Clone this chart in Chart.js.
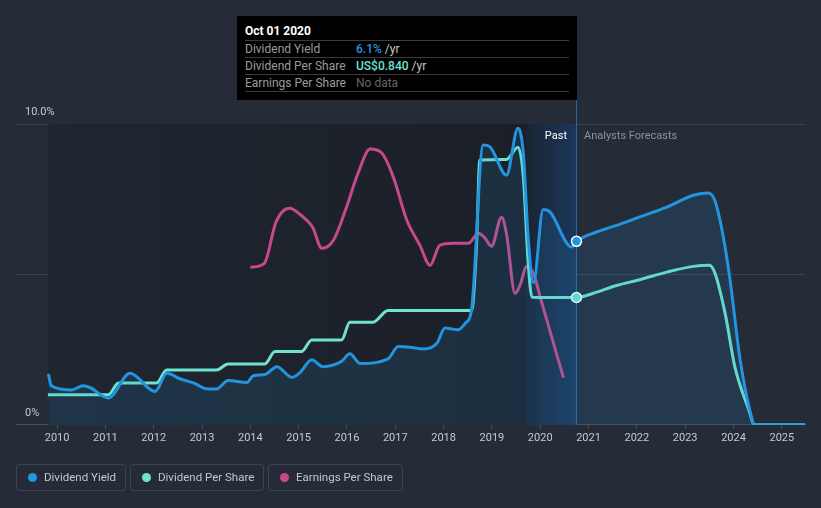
<!DOCTYPE html>
<html>
<head>
<meta charset="utf-8">
<script src="https://cdn.jsdelivr.net/npm/chart.js@4.4.1/dist/chart.umd.min.js"></script>
<style>
  html, body { margin:0; padding:0; background:#252b37; }
  #wrap { position:relative; width:821px; height:508px; background:#252b37; font-family:Roboto, "Noto Sans", sans-serif; overflow:hidden; }
  #c { position:absolute; left:0; top:0; }
  .tip { position:absolute; left:237px; top:16px; width:340px; height:84px; background:#000; box-sizing:border-box; }
  .tip .title { position:absolute; left:8px; top:8px; color:#fff; font-weight:700; font-size:12px; }
  .tip .row { position:absolute; left:8px; width:324px; height:17px; border-top:1px solid #3a3a3a; font-size:12px; line-height:16px; color:#9b9b9b; }
  .tip .row .v { position:absolute; left:111px; top:0; }
  .tip .sep { position:absolute; left:8px; width:324px; border-top:1px solid #3a3a3a; }
  .lab { position:absolute; font-size:11px; white-space:nowrap; }
  .legend { position:absolute; top:464px; height:27px; border:1px solid #3d4451; border-radius:3px; box-sizing:border-box; color:#c3c7ce; font-size:11.5px; line-height:25px; padding-left:27px; }
  .legend .dot { position:absolute; left:11px; top:8px; width:9px; height:9px; border-radius:50%; }
</style>
</head>
<body>
<div id="wrap">
  <canvas id="c" width="821" height="508"></canvas>
  <div class="tip">
    <div class="title">Oct 01 2020</div>
    <div class="row" style="top:24px">Dividend Yield<span class="v"><b style="color:#2394df;font-weight:500">6.1%</b> <span style="color:#c9c9c9">/yr</span></span></div>
    <div class="row" style="top:41px">Dividend Per Share<span class="v"><b style="color:#6ee4d0;font-weight:500">US$0.840</b> <span style="color:#c9c9c9">/yr</span></span></div>
    <div class="row" style="top:58px">Earnings Per Share<span class="v" style="color:#666">No data</span></div>
    <div class="sep" style="top:75px"></div>
  </div>
  <div class="lab" style="right:254px; top:129px; color:#ffffff;">Past</div>
  <div class="lab" style="left:584px; top:129px; color:#8d939d;">Analysts Forecasts</div>
  <div class="legend" style="left:16px; width:110px;"><span class="dot" style="background:#2394df"></span>Dividend Yield</div>
  <div class="legend" style="left:130px; width:134px;"><span class="dot" style="background:#6ee4d0"></span>Dividend Per Share</div>
  <div class="legend" style="left:268px; width:135px;"><span class="dot" style="background:#c7498b"></span>Earnings Per Share</div>
</div>
<script>
// ---- Data ----
const tickYears = [2010,2011,2012,2013,2014,2015,2016,2017,2018,2019,2020,2021,2022,2023,2024,2025];
const yTickValues = [0, 5, 10];
const yTickLabels = ['0%', '', '10.0%'];

const yieldYears  = [2009.82,2009.88,2010.30,2010.54,2010.68,2011.06,2011.51,2012.03,2012.27,2012.54,2012.86,2013.06,2013.30,2013.54,2013.93,2014.06,2014.30,2014.55,2014.86,2015.03,2015.27,2015.51,2015.72,2015.89,2016.06,2016.27,2016.85,2017.06,2017.30,2017.58,2017.86,2018.03,2018.30,2018.44,2018.58,2018.82,2018.96,2019.30,2019.54,2019.65,2019.75,2019.86,2020.06,2020.20,2020.65,2020.75,2021.17,2021.58,2022.06,2022.62,2023.17,2023.48,2023.61,2023.79,2023.93,2024.13,2024.34,2024.44,2025.48];
const yieldValues = [1.69,1.30,1.16,1.30,1.24,0.89,1.71,1.11,1.71,1.53,1.37,1.21,1.19,1.47,1.41,1.63,1.67,1.93,1.58,1.74,2.16,1.93,1.99,2.11,2.36,2.04,2.19,2.60,2.58,2.52,2.71,3.22,3.16,3.36,3.86,9.30,9.24,8.30,9.86,9.03,6.24,4.72,7.16,7.08,5.91,6.10,6.41,6.63,6.91,7.24,7.63,7.71,7.47,6.24,4.80,2.24,0.47,0.00,0.00];

const dpsYears  = [2009.81,2011.06,2011.27,2012.06,2012.27,2013.30,2013.54,2014.30,2014.51,2015.06,2015.27,2015.89,2016.06,2016.54,2016.85,2018.58,2018.68,2018.75,2019.30,2019.54,2019.65,2019.75,2019.83,2020.75,2021.17,2021.58,2022.06,2022.62,2023.17,2023.50,2023.62,2023.83,2024.03,2024.30,2024.44,2025.48];
const dpsValues = [0.198,0.198,0.276,0.276,0.362,0.362,0.401,0.401,0.483,0.483,0.560,0.560,0.677,0.677,0.754,0.754,1.17,1.746,1.75,1.83,1.636,1.07,0.842,0.840,0.875,0.919,0.957,1.007,1.045,1.052,0.997,0.73,0.38,0.115,0.00,0.00];

const epsYears  = [2014.00,2014.29,2014.53,2014.81,2015.05,2015.29,2015.48,2015.72,2015.99,2016.23,2016.48,2016.72,2016.96,2017.24,2017.51,2017.72,2017.92,2018.20,2018.51,2018.72,2018.86,2018.99,2019.20,2019.30,2019.48,2019.58,2019.72,2019.86,2019.99,2020.48];
const epsValues = [1.57,1.61,2.02,2.16,2.09,1.97,1.76,1.84,2.17,2.51,2.75,2.71,2.47,2.04,1.79,1.59,1.79,1.81,1.81,1.91,1.86,1.78,2.07,1.91,1.31,1.39,1.58,1.51,1.29,0.47];

const pastStart = 2009.82;      // first data point
const lastYearStart = 2019.72;  // start of the highlighted last-year band
const nowYear = 2020.75;        // Oct 01 2020 (hover / past-forecast divider)

const yMax = 10;              // dividend yield %
const dpsPerYieldUnit = 5.04; // US$1 DPS drawn at the height of 5.04 %
const epsMax = 3.0;

// ---- Chart ----
const pts = (xs, ys) => xs.map((x, i) => ({x, y: ys[i]}));
const hoverRadius = c => (c.raw && Math.abs(c.raw.x - nowYear) < 0.001) ? 5 : 0;

const bgPlugin = {
  id: 'bg',
  beforeDatasetsDraw(chart) {
    const {ctx, chartArea: a, scales: {x}} = chart;
    const x0 = x.getPixelForValue(pastStart);
    const x1 = x.getPixelForValue(lastYearStart);
    const x2 = x.getPixelForValue(nowYear);
    ctx.save();
    let g = ctx.createLinearGradient(x0, 0, x1, 0);
    g.addColorStop(0, '#20262f');
    g.addColorStop(1, '#1a1f28');
    ctx.fillStyle = g;
    ctx.fillRect(x0, a.top, x1 - x0, a.bottom - a.top);
    g = ctx.createLinearGradient(x1, 0, x2, 0);
    g.addColorStop(0, '#1b2434');
    g.addColorStop(1, '#1b375b');
    ctx.fillStyle = g;
    ctx.fillRect(x1, a.top, x2 - x1, a.bottom - a.top);
    ctx.strokeStyle = '#2366ad';
    ctx.lineWidth = 1;
    ctx.beginPath();
    ctx.moveTo(Math.round(x2) + 0.5, 100);
    ctx.lineTo(Math.round(x2) + 0.5, a.bottom);
    ctx.stroke();
    ctx.restore();
  },
  afterDraw(chart) {
    const {ctx, chartArea: a, scales: {y}} = chart;
    ctx.save();
    ctx.font = '11px Roboto';
    ctx.fillStyle = '#c6cad1';
    ctx.textAlign = 'left';
    ctx.textBaseline = 'middle';
    yTickValues.forEach((v, i) => {
      if (yTickLabels[i]) ctx.fillText(yTickLabels[i], a.left + 9, y.getPixelForValue(v) - 12);
    });
    ctx.restore();
  }
};

new Chart(document.getElementById('c'), {
  type: 'line',
  data: {
    datasets: [
      {
        label: 'Dividend Yield', data: pts(yieldYears, yieldValues), yAxisID: 'y',
        borderColor: '#2394df', borderWidth: 3, backgroundColor: 'rgba(35,148,223,0.14)',
        fill: 'origin', cubicInterpolationMode: 'monotone',
        pointRadius: hoverRadius, pointBackgroundColor: '#2394df', pointBorderColor: '#ffffff', pointBorderWidth: 1.5
      },
      {
        label: 'Dividend Per Share', data: pts(dpsYears, dpsValues), yAxisID: 'y2',
        borderColor: '#6ee4d0', borderWidth: 3, fill: false, cubicInterpolationMode: 'monotone',
        pointRadius: hoverRadius, pointBackgroundColor: '#6ee4d0', pointBorderColor: '#ffffff', pointBorderWidth: 1.5
      },
      {
        label: 'Earnings Per Share', data: pts(epsYears, epsValues), yAxisID: 'y3',
        borderColor: '#c7498b', borderWidth: 3, fill: false, cubicInterpolationMode: 'monotone',
        pointRadius: 0
      }
    ]
  },
  options: {
    responsive: false, animation: false,
    layout: { padding: { top: 124, left: 16, right: 16, bottom: 60 } },
    plugins: { legend: { display: false }, tooltip: { enabled: false } },
    scales: {
      x: {
        type: 'linear', min: 2009.15, max: 2025.48,
        afterBuildTicks: s => { s.ticks = tickYears.map(v => ({value: v})); },
        ticks: { color: '#c6cad1', font: { family: 'Roboto', size: 11 }, padding: 3, maxRotation: 0, autoSkip: false, callback: v => String(v) },
        grid: { drawOnChartArea: false, color: '#4a5160', tickLength: 4 },
        border: { color: '#4a5160' }
      },
      y: {
        min: 0, max: yMax,
        afterBuildTicks: s => { s.ticks = yTickValues.map(v => ({value: v})); },
        ticks: { display: false },
        grid: { color: '#3b4250', drawTicks: false },
        border: { display: false }
      },
      y2: { display: false, min: 0, max: yMax / dpsPerYieldUnit },
      y3: { display: false, min: 0, max: epsMax }
    }
  },
  plugins: [bgPlugin]
});
</script>
</body>
</html>
